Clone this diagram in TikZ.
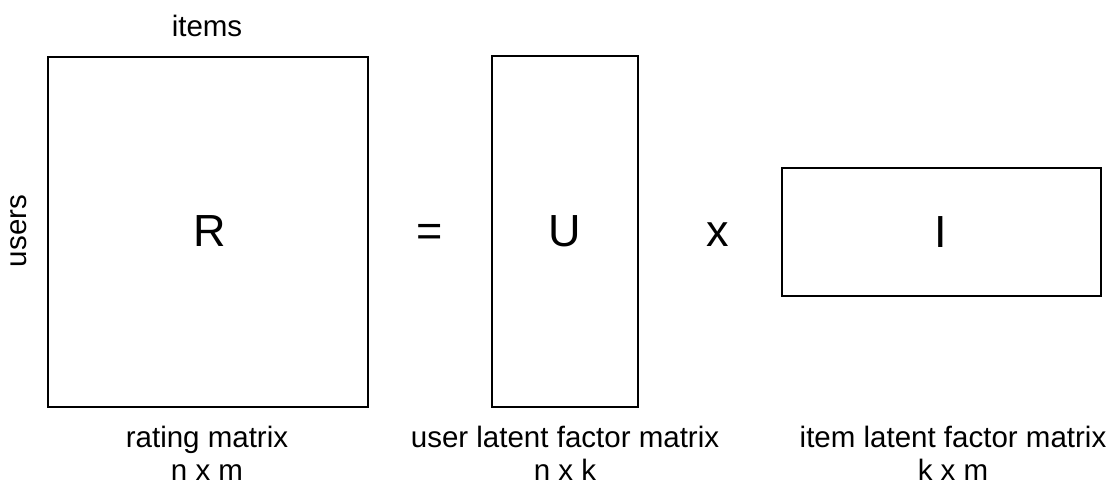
\documentclass[tikz,border=0pt]{standalone}
\usepackage{fontspec}
\setmainfont{Liberation Sans}
\begin{document}
\begin{tikzpicture}[x=1pt,y=-1pt,
  mat/.style={draw=black,line width=1.4pt},
  lbl/.style={font=\fontsize{29.5}{35}\selectfont,inner sep=0pt,anchor=base},
  big/.style={font=\fontsize{45}{50}\selectfont,inner sep=0pt,anchor=base}]
\useasboundingbox (0,0) rectangle (1114,487);
\draw[mat] (48,57) rectangle (368,407);
\draw[mat] (492,56) rectangle (638,407);
\draw[mat] (782,168) rectangle (1101,296);
\node[lbl] (items) at (207,37) {items};
\node[lbl,rotate=90] (users) at (27,231) {users};
\node[big] (R) at (210,246) {R};
\node[big] (eq) at (430,246) {=};
\node[big] (U) at (565,246) {U};
\node[big] (times) at (718,246) {x};
\node[big] (I) at (941,247) {I};
\node[lbl] (c1a) at (207,447) {rating matrix};
\node[lbl] (c1b) at (207,480) {n x m};
\node[lbl] (c2a) at (565,447) {user latent factor matrix};
\node[lbl] (c2b) at (565,480) {n x k};
\node[lbl] (c3a) at (953,447) {item latent factor matrix};
\node[lbl] (c3b) at (953,480) {k x m};
\end{tikzpicture}
\end{document}
